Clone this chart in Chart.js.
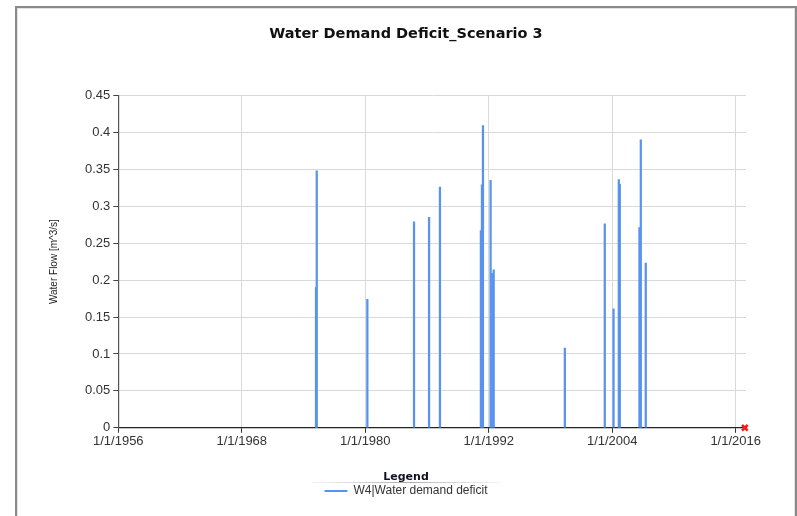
<!DOCTYPE html>
<html>
<head>
<meta charset="utf-8">
<script src="https://cdn.jsdelivr.net/npm/chart.js@4.4.1/dist/chart.umd.min.js"></script>
<style>
  html, body { margin: 0; padding: 0; background: #ffffff; }
  #wrap { position: relative; width: 797px; height: 516px; overflow: hidden; }
  #frame {
    position: absolute; left: 15px; top: 6px; width: 778px; height: 530px;
    border: 2px solid #8a8a8a; border-bottom: none;
    box-shadow: inset 1px 1px 0 #e2e2e2, inset -1px 0 0 #e2e2e2;
    pointer-events: none;
  }
  canvas { position: absolute; left: 0; top: 0; }
</style>
</head>
<body>
<div id="wrap">
  <canvas id="chart" width="797" height="516"></canvas>
  <div id="frame"></div>
</div>
<script>
// Water demand deficit events (date of event, deficit in m^3/s)
const deficitDates = [
  '1975-03-20', '1975-04-15', '1980-03-15', '1984-09-27', '1986-03-15',
  '1987-04-05', '1991-03-28', '1991-05-05', '1991-06-10', '1992-03-07',
  '1992-05-05', '1992-06-25', '1999-05-26', '2003-04-12', '2004-02-17',
  '2004-08-22', '2004-09-27', '2006-08-25', '2006-10-12', '2007-04-05'
];
const deficitValues = [
  0.190, 0.348, 0.174, 0.279, 0.285,
  0.326, 0.267, 0.329, 0.409, 0.335,
  0.209, 0.214, 0.108, 0.276, 0.161,
  0.336, 0.330, 0.271, 0.390, 0.223
];
// End-of-record marker
const markerDates = ['2016-11-20'];
const markerValues = [0];

const tickYears = [1956, 1968, 1980, 1992, 2004, 2016];
const axisStart = '1956-01-01';
const axisEnd = '2017-01-01';
const seriesName = 'W4|Water demand deficit';

const ms = s => Date.parse(s + 'T00:00:00Z');
const deficitPoints = deficitDates.map((d, i) => ({ x: ms(d), y: deficitValues[i] }));
const markerPoints = markerDates.map((d, i) => ({ x: ms(d), y: markerValues[i] }));

const FONT = "'Liberation Sans', Arial, sans-serif";

// Thin rule under the legend heading
const legendRule = {
  id: 'legendRule',
  afterDraw(chart) {
    const lg = chart.legend;
    if (!lg) return;
    const ctx = chart.ctx;
    const cx = (lg.left + lg.right) / 2;
    const y = Math.round(lg.top + 10) + 0.5;
    const grad = ctx.createLinearGradient(cx - 94, 0, cx + 94, 0);
    grad.addColorStop(0, 'rgba(200,200,200,0.2)');
    grad.addColorStop(0.5, 'rgba(170,170,170,1)');
    grad.addColorStop(1, 'rgba(200,200,200,0.2)');
    ctx.save();
    ctx.strokeStyle = grad;
    ctx.lineWidth = 1;
    ctx.beginPath();
    ctx.moveTo(cx - 94, y);
    ctx.lineTo(cx + 94, y);
    ctx.stroke();
    ctx.restore();
  }
};

new Chart(document.getElementById('chart'), {
  type: 'bar',
  data: {
    datasets: [
      {
        label: seriesName,
        data: deficitPoints,
        backgroundColor: '#5a93ef',
        borderWidth: 0,
        barThickness: 1.6,
        order: 2
      },
      {
        type: 'line',
        label: 'marker',
        data: markerPoints,
        showLine: false,
        pointStyle: 'crossRot',
        pointRadius: 4,
        pointBorderWidth: 2.6,
        borderColor: '#ff1a1a',
        backgroundColor: '#ff1a1a',
        clip: false,
        order: 1
      }
    ]
  },
  options: {
    responsive: false,
    animation: false,
    layout: { padding: { left: 66, right: 51, top: 0, bottom: 9 } },
    scales: {
      x: {
        type: 'linear',
        min: ms(axisStart),
        max: ms(axisEnd),
        offset: false,
        afterBuildTicks: s => { s.ticks = tickYears.map(y => ({ value: Date.UTC(y, 0, 1) })); },
        afterFit: s => { s.height = 44; },
        ticks: {
          autoSkip: false,
          maxRotation: 0,
          padding: 1,
          color: '#333333',
          font: { family: FONT, size: 13 },
          callback: v => '1/1/' + new Date(v).getUTCFullYear()
        },
        grid: { color: '#d9d9d9', lineWidth: 1, offset: false, tickLength: 5, tickColor: '#333333' },
        border: { color: '#222222', width: 1.2 }
      },
      y: {
        min: 0,
        max: 0.45,
        ticks: {
          stepSize: 0.05,
          padding: 3,
          color: '#333333',
          font: { family: FONT, size: 13 },
          callback: v => String(+v.toFixed(2))
        },
        title: {
          display: true,
          text: 'Water Flow [m^3/s]',
          color: '#222222',
          font: { family: "'Liberation Sans Narrow', 'Liberation Sans', Arial, sans-serif", size: 10 },
          padding: { top: -18, bottom: 22 }
        },
        grid: { color: '#d9d9d9', lineWidth: 1, tickLength: 5, tickColor: '#444444' },
        border: { color: '#555555', width: 1.2 }
      }
    },
    plugins: {
      title: {
        display: true,
        text: 'Water Demand Deficit_Scenario 3',
        color: '#111111',
        font: { family: "'DejaVu Sans', Verdana, sans-serif", size: 14.5, weight: 'bold' },
        padding: { top: 26, bottom: 52 }
      },
      legend: {
        display: true,
        position: 'bottom',
        title: {
          display: true,
          text: 'Legend',
          color: '#111122',
          font: { family: "'DejaVu Sans', Verdana, sans-serif", size: 11, weight: 'bold' },
          padding: { top: 0, bottom: 0 }
        },
        labels: {
          boxWidth: 23,
          boxHeight: 2,
          padding: 0,
          color: '#333333',
          font: { family: FONT, size: 12 },
          filter: item => item.text === seriesName
        }
      },
      tooltip: { enabled: false }
    }
  },
  plugins: [legendRule]
});
</script>
</body>
</html>
